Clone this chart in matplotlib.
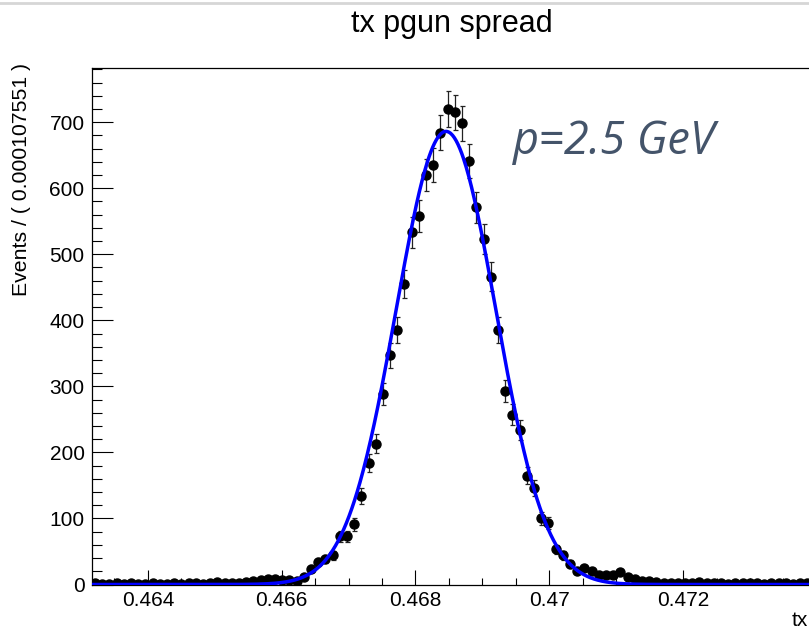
import numpy as np
import matplotlib
matplotlib.use("Agg")
import matplotlib.pyplot as plt
from matplotlib.ticker import MultipleLocator, FuncFormatter
from matplotlib.lines import Line2D

# binning of the RooPlot: 100 bins of 0.000107551 in tx
bin_lo = 0.463157
bin_width = 0.000107551

# events per bin
counts = [
    2, 1, 1, 2, 1, 3, 1, 1, 2, 1,
    1, 3, 1, 2, 2, 1, 2, 4, 2, 3,
    3, 4, 5, 7, 9, 8, 7, 7, 5, 12,
    24, 34, 39, 44, 73, 73, 91, 134, 184, 213,
    288, 347, 385, 455, 533, 558, 620, 635, 684, 720,
    715, 698, 641, 571, 523, 466, 386, 293, 257, 234,
    165, 146, 100, 93, 53, 44, 31, 21, 25, 20,
    14, 14, 15, 19, 12, 9, 6, 5, 4, 3,
    2, 3, 3, 2, 4, 2, 3, 2, 1, 3,
    2, 2, 3, 1, 2, 2, 3, 1, 2, 2,
]

# gaussian fit result (blue curve)
fit_amp = 686.0
fit_mean = 0.468456
fit_sigma = 0.000745

x_ticks = [0.464, 0.466, 0.468, 0.47, 0.472]
y_ticks = [0, 100, 200, 300, 400, 500, 600, 700]

counts = np.array(counts, dtype=float)
centers = bin_lo + (np.arange(len(counts)) + 0.5) * bin_width
x_hi = bin_lo + len(counts) * bin_width

fig = plt.figure(figsize=(8.09, 6.30), dpi=100)
W, H = 809.0, 630.0
ax = fig.add_axes([91.5 / W, 1 - 584.5 / H, (811 - 91.5) / W, (584.5 - 68) / H])

# data points with poisson errors
ax.errorbar(centers, counts, yerr=np.sqrt(counts), fmt='o', color='black',
            ms=6.5, ecolor='#222222', elinewidth=0.9, capsize=1.8, capthick=0.9,
            zorder=2)

# fitted curve
xs = np.linspace(bin_lo, x_hi, 800)
ax.plot(xs, fit_amp * np.exp(-0.5 * ((xs - fit_mean) / fit_sigma) ** 2),
        color='#0000ff', lw=2.5, zorder=3)

ax.set_xlim(bin_lo, x_hi)
ax.set_ylim(0, 782)

ax.set_xticks(x_ticks)
ax.set_yticks(y_ticks)
ax.xaxis.set_minor_locator(MultipleLocator(0.0005))
ax.yaxis.set_minor_locator(MultipleLocator(20))
ax.xaxis.set_major_formatter(FuncFormatter(lambda v, p: '%g' % round(v, 4)))

ax.tick_params(axis='x', which='major', direction='in', length=10.8, width=0.8,
               labelsize=15, pad=5)
ax.tick_params(axis='x', which='minor', direction='in', length=5, width=0.8)
ax.tick_params(axis='y', which='major', direction='in', length=15, width=0.8,
               labelsize=15, pad=5)
ax.tick_params(axis='y', which='minor', direction='in', length=7.5, width=0.8)
for lab in ax.get_xticklabels() + ax.get_yticklabels():
    lab.set_family('Liberation Sans')

for s in ['left', 'bottom', 'top']:
    ax.spines[s].set_linewidth(0.9)
ax.spines['right'].set_visible(False)

# labels in ROOT style
fig.text(22 / W, 1 - 63 / H, 'Events / ( 0.000107551 )', rotation=90,
         ha='center', va='top', fontsize=15.3, family='Liberation Sans')
fig.text(808 / W, 1 - 620 / H, 'tx', ha='right', va='center',
         fontsize=15, family='Liberation Sans')
fig.text(452 / W, 1 - 24 / H, 'tx pgun spread', ha='center', va='center',
         fontsize=22, family='Liberation Sans')

# annotation
fig.text(513 / W, 1 - 142 / H, 'p=2.5 GeV', ha='left', va='center',
         fontsize=32.5, style='italic', color='#44546A', family='Open Sans')

# thin grey border at the top of the screenshot
fig.add_artist(Line2D([0, 1], [1 - 3 / H, 1 - 3 / H], color='#d6d6d6', lw=2,
                      transform=fig.transFigure))

fig.savefig('out.png', dpi=100)
